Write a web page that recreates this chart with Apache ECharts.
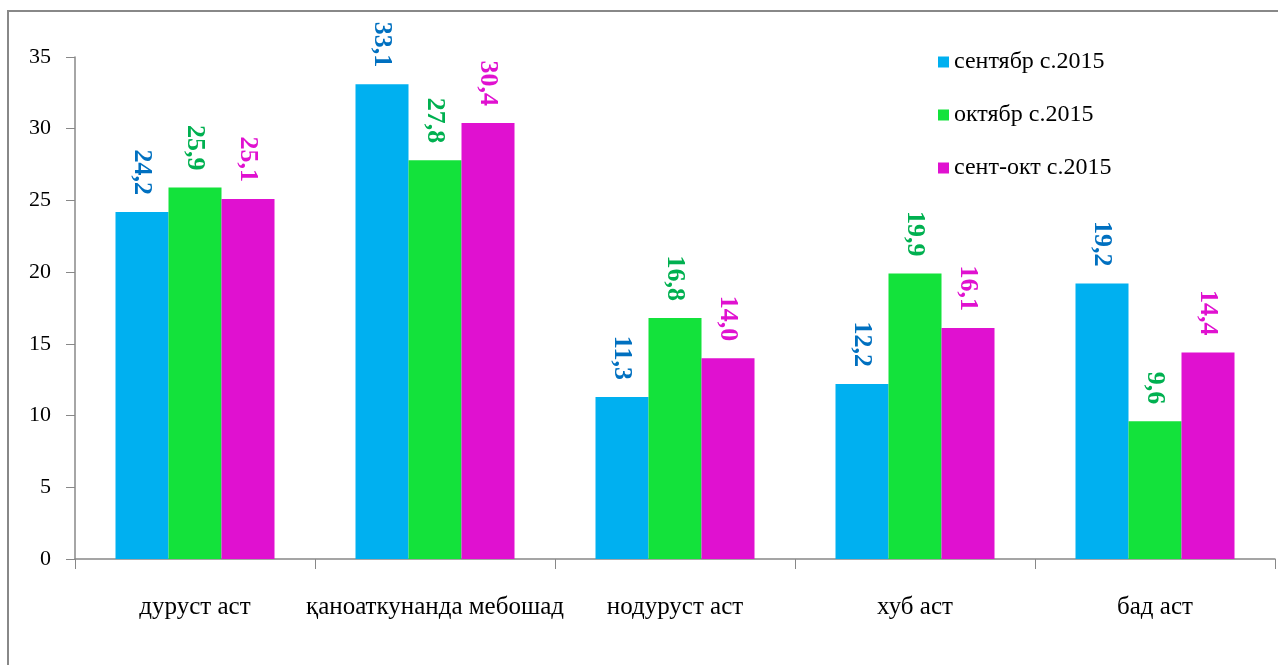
<!DOCTYPE html>
<html><head><meta charset="utf-8">
<script src="https://cdn.jsdelivr.net/npm/echarts@6/dist/echarts.min.js"></script>
<style>html,body{margin:0;padding:0;background:#fff}#c{width:1278px;height:665px}</style>
</head><body><div id="c"></div>
<script>
const categories = ['дуруст аст', 'қаноаткунанда мебошад', 'нодуруст аст', 'хуб аст', 'бад аст'];
const seriesNames = ['сентябр с.2015', 'октябр с.2015', 'сент-окт с.2015'];
const september = [24.2, 33.1, 11.3, 12.2, 19.2];
const october = [25.9, 27.8, 16.8, 19.9, 9.6];
const septOct = [25.1, 30.4, 14.0, 16.1, 14.4];
const yTicks = [0, 5, 10, 15, 20, 25, 30, 35];

const barColors = ['#00B0F0', '#13E23B', '#E011D0'];
const labelColors = ['#0070C0', '#00B050', '#E011D0'];
const serif = '"Liberation Serif", "DejaVu Serif", serif';

function mk(name, data, i) {
  return {
    name: name, type: 'bar', data: data, barWidth: 53, barGap: '0%',
    itemStyle: { color: barColors[i] },
    label: {
      show: true, position: 'top', rotate: -90, align: 'right', verticalAlign: 'middle',
      distance: 17, color: labelColors[i], fontFamily: serif, fontWeight: 'bold', fontSize: 26,
      formatter: p => p.value.toFixed(1).replace('.', ',')
    }
  };
}

const chart = echarts.init(document.getElementById('c'));
chart.setOption({
  animation: false,
  grid: { left: 75, right: 3, top: 57, bottom: 106, containLabel: false },
  legend: {
    orient: 'vertical', left: 933, top: 45, itemWidth: 11, itemHeight: 11, itemGap: 29,
    icon: 'rect', textStyle: { fontFamily: serif, fontSize: 24, color: '#000' },
    data: seriesNames
  },
  xAxis: {
    type: 'category', data: categories,
    axisLine: { lineStyle: { color: '#888', width: 1.5 } },
    axisTick: { show: true, length: 10, lineStyle: { color: '#888' } },
    axisLabel: { interval: 0, fontFamily: serif, fontSize: 25, color: '#000', margin: 36 }
  },
  yAxis: {
    type: 'value', min: 0, max: 35, interval: 5,
    axisLine: { show: true, lineStyle: { color: '#888', width: 1.5 } },
    axisTick: { show: true, length: 9, lineStyle: { color: '#888' } },
    splitLine: { show: false },
    axisLabel: { fontFamily: serif, fontSize: 22, color: '#000', margin: 24,
      formatter: v => yTicks.includes(v) ? String(v) : '' }
  },
  graphic: [
    { type: 'rect', shape: { x: 8, y: 11, width: 1400, height: 800 }, style: { fill: 'none', stroke: '#888', lineWidth: 2 }, silent: true }
  ],
  series: [mk(seriesNames[0], september, 0), mk(seriesNames[1], october, 1), mk(seriesNames[2], septOct, 2)]
});
</script></body></html>
